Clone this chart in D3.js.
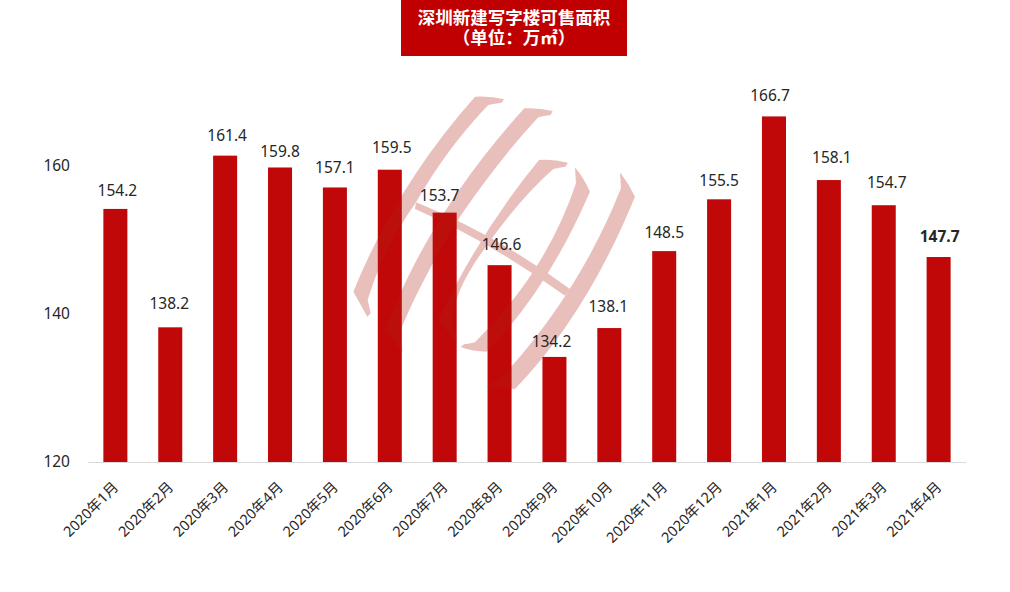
<!DOCTYPE html>
<html><head><meta charset="utf-8">
<script src="https://cdn.jsdelivr.net/npm/d3@7"></script>
<style>html,body{margin:0;padding:0;background:#fff}svg{display:block}
text{font-family:"Noto Sans","Noto Sans CJK SC",sans-serif}</style></head>
<body><svg id="c" width="1010" height="592"></svg>
<script>
const months=["2020年1月","2020年2月","2020年3月","2020年4月","2020年5月","2020年6月","2020年7月","2020年8月","2020年9月","2020年10月","2020年11月","2020年12月","2021年1月","2021年2月","2021年3月","2021年4月"];
const areaValues=[154.2,138.2,161.4,159.8,157.1,159.5,153.7,146.6,134.2,138.1,148.5,155.5,166.7,158.1,154.7,147.7];
const yTicks=[120,140,160];
const titleLines=["深圳新建写字楼可售面积","（单位：万㎡）"];
// the reference's value labels are hand-placed: offsets from each bar
const labelShiftX=[2,-1,2,0,0,2,-5,2,-3,-1,0,0,-4,3,3,1];
const labelLift=[18,24,20,16,20,22,17,21,15,22,19,19,21,23,23,21];

const svg=d3.select("#c");
const x=d3.scaleBand().domain(months).range([88,966]).paddingInner(0.5625).paddingOuter(0.28);
const y=d3.scaleLinear().domain([120,160]).range([462,166]);

// title
svg.append("rect").attr("x",401).attr("y",0).attr("width",226).attr("height",56).attr("fill","#C00000");
const title=svg.append("text").attr("text-anchor","middle")
 .attr("fill","#fff").attr("font-size",17.5).attr("font-weight","bold")
 .style("font-family",'"Noto Sans CJK SC",sans-serif');
title.selectAll("tspan").data(titleLines).join("tspan")
 .attr("x",514).attr("y",(d,i)=>24+i*20).text(d=>d);

// bars
svg.append("g").selectAll("rect").data(areaValues).join("rect")
 .attr("x",(d,i)=>x(months[i])).attr("width",x.bandwidth())
 .attr("y",d=>y(d)).attr("height",d=>y(120)-y(d)).attr("fill","#C00808");

// watermark (coordinates in zoomed logo space)
const logo=svg.append("g").attr("transform","translate(340,85) scale(0.3333)")
 .attr("fill","#B41E14").attr("opacity",0.28);
[
 "M405,35 Q450,32 492,43 L485,53 Q465,55 445,60 Q320,190 228,352 Q130,490 83,645 L92,685 L82,695 L40,620 Q170,300 405,35Z",
 "M553,70 Q598,68 638,78 L632,90 Q612,92 595,97 Q480,220 362,392 Q235,600 178,745 L188,802 L135,735 Q270,380 553,70Z",
 "M597,225 Q642,222 684,233 L676,245 Q658,247 640,252 Q540,340 438,485 Q345,610 338,700 L350,775 L295,705 Q420,440 597,225Z",
 "M705,247 Q732,280 750,320 Q620,620 440,800 Q400,800 362,786 L372,778 Q388,776 405,772 Q620,560 708,295Z",
 "M840,262 Q866,295 885,335 Q740,690 525,912 L440,905 L490,872 Q720,620 843,310Z",
 "M228,352 Q470,450 690,612 L675,632 Q450,470 225,372Z"
].forEach(d=>logo.append("path").attr("d",d));

// baseline
svg.append("line").attr("x1",88).attr("x2",966).attr("y1",462.5).attr("y2",462.5).attr("stroke","#D9D9D9");

// y axis
const ya=d3.axisLeft(y).tickValues(yTicks).tickSize(0).tickFormat(d3.format("d"));
const yg=svg.append("g").attr("transform","translate(70,-1)").call(ya);
yg.select(".domain").remove();
yg.selectAll("text").attr("font-size",15.5).attr("fill","#262626").attr("x",0).attr("dy","0.36em")
  .style("font-family",'"Noto Sans",sans-serif');

// x labels
const xa=d3.axisBottom(x).tickSize(0);
const xg=svg.append("g").attr("transform","translate(0,462)").call(xa);
xg.select(".domain").remove();
xg.selectAll("text").attr("font-size",14.5).attr("fill","#262626").attr("text-anchor","end")
  .attr("dy",0).attr("y",0)
  .attr("transform","translate(4,26) rotate(-45)")
  .style("font-family",'"Noto Sans","Noto Sans CJK SC",sans-serif');

// value labels
svg.append("g").selectAll("text").data(areaValues).join("text")
 .attr("x",(d,i)=>x(months[i])+x.bandwidth()/2+labelShiftX[i]).attr("y",(d,i)=>y(d)-labelLift[i]+5.5)
 .attr("text-anchor","middle").attr("font-size",15.5).attr("fill","#262626")
 .attr("font-weight",(d,i)=>i===areaValues.length-1?"bold":"normal")
 .text(d=>d3.format(".1f")(d));
</script></body></html>
